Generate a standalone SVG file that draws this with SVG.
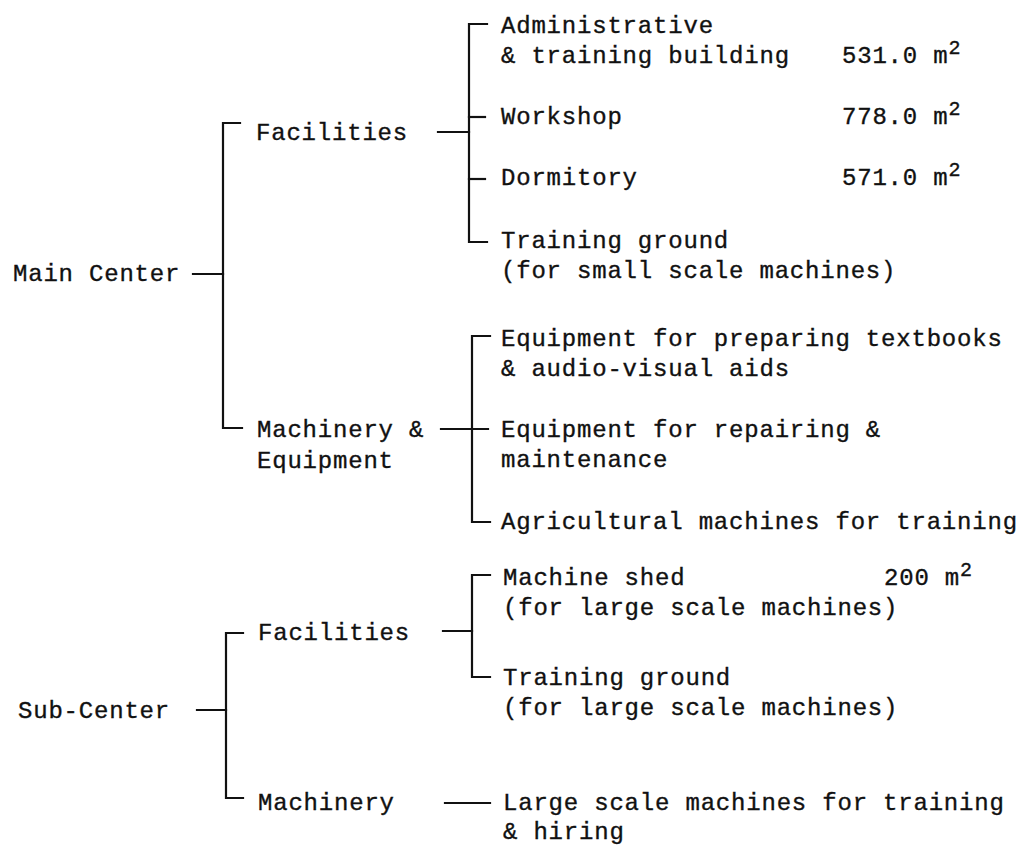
<svg xmlns="http://www.w3.org/2000/svg" width="1023" height="845" viewBox="0 0 1023 845">
<style>
text{font-family:"Liberation Mono","DejaVu Sans Mono",monospace;font-size:24px;letter-spacing:0.8px;fill:#111;stroke:#111;stroke-width:0.35px}
.sup{font-size:20px}
.c line,.c path{stroke:#111;stroke-width:2.2;fill:none;stroke-linecap:square}
</style>
<rect width="1023" height="845" fill="#fff"/>
<g class="c" id="connectors">
<line x1="193" y1="274" x2="223" y2="274"/>
<path d="M240 123 H223 V428 H242"/>
<line x1="438" y1="132" x2="469" y2="132"/>
<path d="M487 24 H469 V242 H487"/>
<line x1="469" y1="117" x2="485" y2="117"/>
<line x1="469" y1="179" x2="485" y2="179"/>
<line x1="441" y1="429" x2="488" y2="429"/>
<path d="M490 336 H472 V522 H490"/>
<line x1="197" y1="710" x2="226" y2="710"/>
<path d="M243 633 H226 V798 H243"/>
<line x1="443" y1="631" x2="472" y2="631"/>
<path d="M490 575 H472 V677 H490"/>
<line x1="445" y1="803" x2="490" y2="803"/>
</g>
<g id="main-center"><text x="13" y="281">Main Center</text></g>
<g id="main-facilities"><text x="256" y="140">Facilities</text></g>
<g id="main-machinery"><text x="257" y="437">Machinery &amp;<tspan x="257" dy="31">Equipment</tspan></text></g>
<g id="admin-building"><text x="501" y="33">Administrative<tspan x="501" dy="30">&amp; training building</tspan></text><text x="842" y="63">531.0 m<tspan class="sup" dy="-9">2</tspan></text></g>
<g id="workshop"><text x="501" y="124">Workshop</text><text x="842" y="124">778.0 m<tspan class="sup" dy="-9">2</tspan></text></g>
<g id="dormitory"><text x="501" y="185">Dormitory</text><text x="842" y="185">571.0 m<tspan class="sup" dy="-9">2</tspan></text></g>
<g id="training-ground-small"><text x="501" y="248">Training ground<tspan x="501" dy="30">(for small scale machines)</tspan></text></g>
<g id="equip-textbooks"><text x="501" y="346">Equipment for preparing textbooks<tspan x="501" dy="30">&amp; audio-visual aids</tspan></text></g>
<g id="equip-repair"><text x="501" y="437">Equipment for repairing &amp;<tspan x="501" dy="30">maintenance</tspan></text></g>
<g id="agri-machines"><text x="501" y="529">Agricultural machines for training</text></g>
<g id="sub-center"><text x="18" y="718">Sub-Center</text></g>
<g id="sub-facilities"><text x="258" y="640">Facilities</text></g>
<g id="sub-machinery"><text x="258" y="810">Machinery</text></g>
<g id="machine-shed"><text x="503" y="585">Machine shed<tspan x="503" dy="30">(for large scale machines)</tspan></text><text x="884" y="585">200 m<tspan class="sup" dy="-9">2</tspan></text></g>
<g id="training-ground-large"><text x="503" y="685">Training ground<tspan x="503" dy="30">(for large scale machines)</tspan></text></g>
<g id="large-machines"><text x="503" y="810">Large scale machines for training<tspan x="503" dy="29">&amp; hiring</tspan></text></g>
</svg>
